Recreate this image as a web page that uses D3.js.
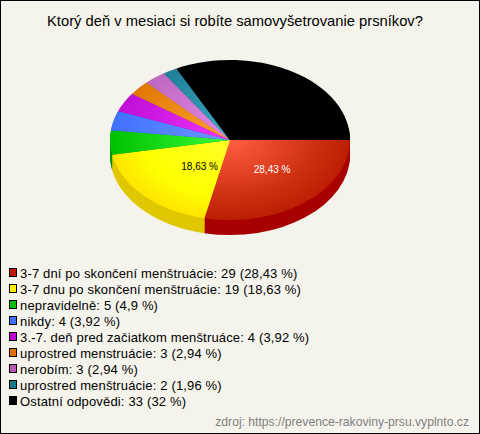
<!DOCTYPE html>
<html><head><meta charset="utf-8">
<script src="https://cdn.jsdelivr.net/npm/d3@7/dist/d3.min.js"></script>
<style>html,body{margin:0;padding:0;background:#f5f4ec}svg{display:block}text{font-family:"Liberation Sans",Arial,sans-serif}</style>
</head><body><svg id="c" width="480" height="434"></svg>
<script>
const categories=["3-7 dní po skončení menštruácie","3-7 dnu po skončení menštruácie","nepravidelně","nikdy","3.-7. deň pred začiatkom menštruáce","uprostred menstruácie","nerobím","uprostred menštruácie","Ostatní odpovědi"];
const counts=[29,19,5,4,4,3,3,2,33];
const shares=["28,43","18,63","4,9","3,92","3,92","2,94","2,94","1,96","32"];
const inner=["#ff5f40","#ffff28","#38ff38","#6f98ff","#f038ff","#ffa030","#e38ae8","#3aa8c0","#000000"];
const middle=["#cc2f10","#ffff00","#10d010","#4c7cff","#cc18e0","#e98410","#c872cc","#278ca4","#000000"];
const outer=["#bb1e00","#ffe400","#00c000","#4070ff","#c010d8","#e07800","#c068c0","#208098","#000000"];
const sides=["#a80000","#e0c800","#009000","#3050c0","#900090","#b06000","#905090","#186070","#000000"];
const legendColors=["#c01800","#ffee00","#00c000","#4070ff","#c000d0","#e07000","#b858b8","#18788c","#000000"];
const title="Ktorý deň v mesiaci si robíte samovyšetrovanie prsníkov?";
const source="zdroj: https://prevence-rakoviny-prsu.vyplnto.cz";
const sliceLabels=[0,1];
const labelShift=[6,11];

const W=480,H=434,cx=230,cy=140,rx=120,ry=80,depth=15;
const svg=d3.select("#c");
svg.append("rect").attr("x",.5).attr("y",.5).attr("width",W-1).attr("height",H-1).attr("fill","#f5f4ec").attr("stroke","#000");
svg.append("text").attr("x",235).attr("y",26).attr("text-anchor","middle").attr("font-size",14.74).attr("fill","#000").text(title);

const pie=d3.pie().sort(null).startAngle(Math.PI/2).endAngle(Math.PI/2+2*Math.PI)(counts);
const arc=d3.arc().innerRadius(0).outerRadius(rx);
const labelArc=d3.arc().innerRadius(0).outerRadius(rx*.96);
const defs=svg.append("defs");
inner.forEach((c,i)=>{
  const g=defs.append("radialGradient").attr("id","g"+i).attr("gradientUnits","userSpaceOnUse").attr("cx",0).attr("cy",0).attr("r",rx);
  g.append("stop").attr("offset",0).attr("stop-color",c);
  g.append("stop").attr("offset",.72).attr("stop-color",middle[i]);
  g.append("stop").attr("offset",1).attr("stop-color",outer[i]);
});
const sy=ry/rx;
d3.range(depth,0,-1).forEach(dy=>{
  svg.append("g").attr("transform",`translate(${cx},${cy+dy}) scale(1,${sy})`)
    .selectAll("path").data(pie).join("path").attr("d",arc).attr("fill",(d,i)=>sides[i]);
});
svg.append("g").attr("transform",`translate(${cx},${cy}) scale(1,${sy})`)
  .selectAll("path").data(pie).join("path").attr("d",arc).attr("fill",(d,i)=>`url(#g${i})`);
svg.append("g").selectAll("text").data(sliceLabels).join("text")
  .attr("x",i=>cx+labelArc.centroid(pie[i])[0]+labelShift[i])
  .attr("y",i=>cy+labelArc.centroid(pie[i])[1]*sy+3.5)
  .attr("text-anchor","middle").attr("font-size",10)
  .attr("fill",i=>i==0?"#fff":"#000").text(i=>shares[i]+" %");
const y=d3.scalePoint().domain(d3.range(categories.length)).range([273,401]);
const lg=svg.append("g").selectAll("g").data(categories).join("g").attr("transform",(d,i)=>`translate(0,${y(i)})`);
lg.append("rect").attr("x",9.5).attr("y",-4.5).attr("width",7).attr("height",8).attr("fill",(d,i)=>legendColors[i]).attr("stroke","#000");
lg.append("text").attr("x",20).attr("y",4.5).attr("font-size",13).attr("fill","#000").style("letter-spacing","0.16px")
  .text((d,i)=>`${d}: ${counts[i]} (${shares[i]} %)`);
svg.append("text").attr("x",469).attr("y",426).attr("text-anchor","end").attr("font-size",12.15).attr("fill","#808080").text(source);
</script></body></html>
